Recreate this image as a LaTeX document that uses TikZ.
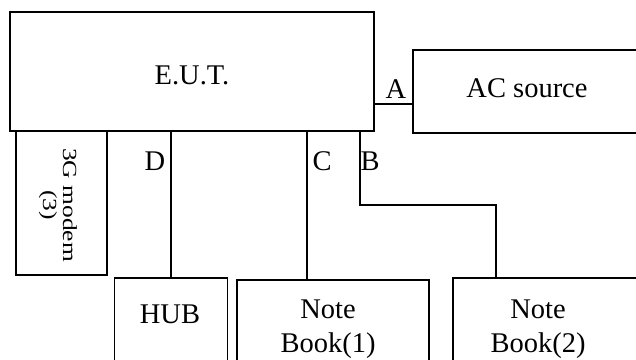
\documentclass[tikz,border=0pt]{standalone}
\usepackage{fontspec}
\setmainfont{Liberation Serif}
\begin{document}
\begin{tikzpicture}[x=1pt,y=-1pt,
  box/.style={draw, line width=1.4pt, inner sep=0pt, rectangle},
  wire/.style={line width=1.4pt},
  txt/.style={anchor=base, inner sep=0pt, font=\fontsize{28.5}{34}\selectfont, align=center},
  lbl/.style={anchor=base, inner sep=0pt, font=\fontsize{28.5}{34}\selectfont}]
\useasboundingbox (0,0) rectangle (636,359);
\clip (0,0) rectangle (636,359);
% boxes
\node[box, minimum width=364pt, minimum height=119pt] (eut) at (192,71.5) {};
\node[box, minimum width=247pt, minimum height=83pt] (ac) at (536.5,91.5) {};
\node[box, minimum width=91pt, minimum height=144pt] (modem) at (61.5,203) {};
\node[box, minimum width=113pt, minimum height=102pt] (hub) at (171,329) {};
\node[box, minimum width=192pt, minimum height=100pt] (nb1) at (333,330) {};
\node[box, minimum width=207pt, minimum height=102pt] (nb2) at (556.5,329) {};
% texts
\node[txt] (teut) at (192,84) {E.U.T.};
\node[txt] (tac) at (527,97) {AC source};
\node[txt] (thub) at (170,323) {HUB};
\node[txt] (tnb1) at (328,352) {Note\\Book(1)};
\node[txt] (tnb2) at (538,352) {Note\\Book(2)};
\node[anchor=base, inner sep=0pt, rotate=-90, align=center,
      font=\fontsize{20}{20}\selectfont] (tmodem) at (43,205)
      {\scalebox{1.27}[1]{3G modem}\\\scalebox{1.27}[1]{(3)}};
% connectors
\coordinate (a0) at (374,104);
\coordinate (c0) at (307,131);
\coordinate (b0) at (360,131);
\coordinate (b1) at (360,205);
\coordinate (b2) at (496,205);
\draw[wire] (a0) -- (a0 -| ac.west);
\draw[wire] (hub.north |- eut.south) -- (hub.north);
\draw[wire] (c0) -- (c0 |- nb1.north);
\draw[wire] (b0) -- (b1) -- (b2) -- (b2 |- nb2.north);
% labels
\node[lbl] (la) at (396,98) {A};
\node[lbl] (ld) at (155,170) {D};
\node[lbl] (lc) at (322,170) {C};
\node[lbl] (lb) at (370,170) {B};
\end{tikzpicture}
\end{document}
